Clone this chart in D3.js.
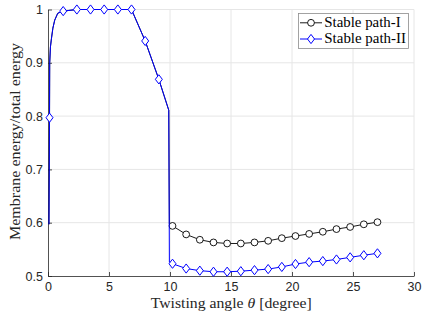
<!DOCTYPE html>
<html><head><meta charset="utf-8">
<script src="https://cdn.jsdelivr.net/npm/d3@7"></script>
<style>body{margin:0;background:#fff}svg{display:block}</style>
</head><body>
<script>
// shared segment (both paths coincide before the jump)
const preX = [0.08, 0.125, 0.14, 0.2, 0.28, 0.4, 0.55, 0.8, 1.245, 2.365, 3.485, 4.605, 5.725, 6.845, 7.965, 9.085, 9.9];
const preY = [0.597, 0.797, 0.9, 0.93, 0.945, 0.965, 0.98, 0.993, 0.997, 1.0, 1.0, 1.0, 1.0, 1.0, 0.941, 0.869, 0.811];
const preMarked = [0, 1, 0, 0, 0, 0, 0, 0, 1, 1, 1, 1, 1, 1, 1, 1, 0];
// after the jump
const postX = [10.205, 11.325, 12.445, 13.565, 14.685, 15.805, 16.925, 18.045, 19.165, 20.285, 21.405, 22.525, 23.645, 24.765, 25.885, 27.005];
const path1Y = [0.594, 0.578, 0.568, 0.563, 0.561, 0.561, 0.563, 0.566, 0.571, 0.575, 0.579, 0.583, 0.588, 0.592, 0.597, 0.601];
const path2Y = [0.523, 0.514, 0.510, 0.508, 0.508, 0.509, 0.511, 0.513, 0.517, 0.5225, 0.526, 0.528, 0.531, 0.535, 0.539, 0.5425];
const xTicks = [0, 5, 10, 15, 20, 25, 30];
const yTicks = [0.5, 0.6, 0.7, 0.8, 0.9, 1];
const seriesNames = ["Stable path-I", "Stable path-II"];

const W = 422, H = 316;
const m = {l: 48, r: 8, t: 9.5, b: 40};
const svg = d3.select("body").append("svg").attr("width", W).attr("height", H);
const x = d3.scaleLinear().domain([0, 30]).range([m.l, W - m.r]);
const y = d3.scaleLinear().domain([0.5, 1]).range([H - m.b, m.t]);

// grid
const g = svg.append("g");
g.selectAll(".gx").data(xTicks.slice(1)).join("line")
  .attr("x1", d => x(d)).attr("x2", d => x(d)).attr("y1", y(0.5)).attr("y2", y(1))
  .attr("stroke", "#e6e6e6").attr("stroke-width", 1);
g.selectAll(".gy").data(yTicks.slice(1)).join("line")
  .attr("x1", x(0)).attr("x2", x(30)).attr("y1", d => y(d)).attr("y2", d => y(d))
  .attr("stroke", "#e6e6e6").attr("stroke-width", 1);

// axes
const font = "'Liberation Sans', Arial, sans-serif";
const ax = svg.append("g").attr("transform", `translate(0,${y(0.5)})`)
  .call(d3.axisBottom(x).tickValues(xTicks).tickSizeInner(-4).tickSizeOuter(0).tickPadding(6).tickFormat(d3.format("d")));
const ay = svg.append("g").attr("transform", `translate(${x(0)},0)`)
  .call(d3.axisLeft(y).tickValues(yTicks).tickSizeInner(-4).tickSizeOuter(0).tickPadding(5).tickFormat(d => d === 1 ? "1" : d3.format(".1f")(d)));
[ax, ay].forEach(a => {
  a.select(".domain").attr("stroke", "#262626").attr("stroke-width", 0.8);
  a.selectAll(".tick line").attr("stroke", "#262626").attr("stroke-width", 0.8);
  a.selectAll(".tick text").attr("fill", "#262626").style("font-family", font).style("font-size", "12.5px");
});

// data
const pre = preX.map((v, i) => ({x: v, y: preY[i], mk: preMarked[i]}));
const p1 = pre.concat([{x: 9.95, y: 0.597, mk: 0}], postX.map((v, i) => ({x: v, y: path1Y[i], mk: 1})));
const p2 = pre.concat([{x: 9.95, y: 0.526, mk: 0}], postX.map((v, i) => ({x: v, y: path2Y[i], mk: 1})));
const line = d3.line().x(d => x(d.x)).y(d => y(d.y));

svg.append("path").datum(p1).attr("d", line).attr("fill", "none").attr("stroke", "#000").attr("stroke-width", 0.9);
svg.selectAll(".c1").data(postX.map((v, i) => ({x: v, y: path1Y[i]}))).join("circle")
  .attr("cx", d => x(d.x)).attr("cy", d => y(d.y)).attr("r", 3.4)
  .attr("fill", "#fff").attr("stroke", "#000").attr("stroke-width", 0.9);

svg.append("path").datum(p2).attr("d", line).attr("fill", "none").attr("stroke", "#0000ff").attr("stroke-width", 1);
const diamond = (cx, cy) => `M${cx},${cy - 4.6}L${cx + 3.5},${cy}L${cx},${cy + 4.6}L${cx - 3.5},${cy}Z`;
svg.selectAll(".d2").data(p2.filter(d => d.mk)).join("path")
  .attr("d", d => diamond(x(d.x), y(d.y)))
  .attr("fill", "#fff").attr("stroke", "#0000ff").attr("stroke-width", 1);

// labels
const serif = "'Liberation Serif', 'DejaVu Serif', serif";
svg.append("text").attr("x", 150.7).attr("y", 308)
  .attr("textLength", 161).attr("lengthAdjust", "spacingAndGlyphs")
  .style("font-family", serif).style("font-size", "15px").attr("fill", "#262626")
  .html("Twisting angle <tspan font-style='italic'>θ</tspan> [degree]");
svg.append("text").attr("transform", `translate(19.5,240) rotate(-90)`)
  .attr("textLength", 197).attr("lengthAdjust", "spacingAndGlyphs")
  .style("font-family", serif).style("font-size", "15px").attr("fill", "#262626")
  .text("Membrane energy/total energy");

// legend
const lg = svg.append("g");
lg.append("rect").attr("x", 298.5).attr("y", 13.5).attr("width", 110).attr("height", 35)
  .attr("fill", "#fff").attr("stroke", "#8c8c8c").attr("stroke-width", 0.8);
const rows = [22.8, 39];
const textW = [76.4, 81.7];
seriesNames.forEach((name, i) => {
  const cy = rows[i];
  lg.append("line").attr("x1", 300).attr("x2", 322).attr("y1", cy).attr("y2", cy)
    .attr("stroke", i ? "#0000ff" : "#000").attr("stroke-width", i ? 1 : 0.9);
  if (i === 0) lg.append("circle").attr("cx", 311).attr("cy", cy).attr("r", 3.4).attr("fill", "#fff").attr("stroke", "#000").attr("stroke-width", 0.9);
  else lg.append("path").attr("d", diamond(311, cy)).attr("fill", "#fff").attr("stroke", "#0000ff").attr("stroke-width", 1);
  lg.append("text").attr("x", 324.3).attr("y", cy + 3.9)
    .attr("textLength", textW[i]).attr("lengthAdjust", "spacingAndGlyphs")
    .style("font-family", serif).style("font-size", "14px").attr("fill", "#000").text(name);
});
</script>
</body></html>
